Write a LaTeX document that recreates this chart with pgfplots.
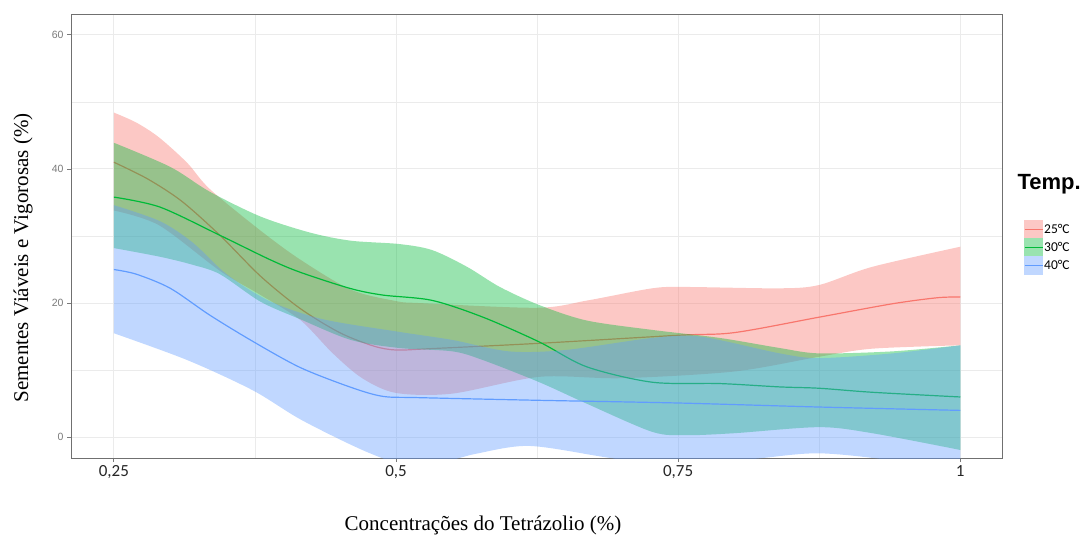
\documentclass[border=0pt]{standalone}
\usepackage{fontspec}
\setmainfont{Liberation Sans}
\newfontfamily\timesf{Liberation Serif}
\newfontfamily\calib{Carlito}
\usepackage{pgfplots}
\pgfplotsset{compat=1.18}
\usepgfplotslibrary{fillbetween}

\definecolor{c25}{HTML}{F8766D}
\definecolor{c30}{HTML}{00BA38}
\definecolor{c40}{HTML}{619CFF}
\definecolor{gridc}{HTML}{EBEBEB}
\definecolor{tickc}{HTML}{7A7A7A}
\definecolor{framec}{HTML}{707070}

\begin{document}
\begin{tikzpicture}
\begin{axis}[
    at={(71pt,84pt)}, anchor=south west,
    width=931pt, height=444pt, scale only axis,
    xmin=0.212, xmax=1.037, ymin=-3.1, ymax=63.1,
    xtick={0.25,0.5,0.75,1},
    xticklabels={{0,25},{0,5},{0,75},{1}},
    ytick={0,20,40,60},
    minor xtick={0.375,0.625,0.875},
    minor ytick={10,30,50},
    grid=both,
    major grid style={gridc, line width=1pt},
    minor grid style={gridc, line width=0.6pt},
    axis line style={framec, line width=0.9pt},
    tick align=outside, major tick length=4pt, minor tick length=0pt,
    tick style={tickc, line width=0.8pt},
    xtick pos=bottom, ytick pos=left,
    /pgf/number format/assume math mode=true,
    xticklabel style={font=\calib\fontsize{17}{17}\selectfont, text=black!85},
    yticklabel style={font=\fontsize{10.5}{11}\selectfont, text=tickc},
    legend style={at={(1.0236,0.536)}, anchor=north west, draw=none, fill=none,
        font=\calib\fontsize{13.5}{13.5}\selectfont, row sep=0pt, inner sep=0pt,
        nodes={inner sep=0pt, inner xsep=1pt}},
    legend cell align=left,
    fill between/on layer=main,
]
% 25 C
\addplot[name path=ru, draw=none, smooth, forget plot] coordinates {
 (0.25,48.4) (0.27,46.9) (0.29,44.7) (0.315,40.9) (0.335,37.0) (0.38,30.8) (0.415,26.5)
 (0.46,22.0) (0.5,20.3) (0.521,20.0) (0.625,19.3) (0.67,20.4) (0.727,22.2)
 (0.757,22.4) (0.84,22.2) (0.875,22.7) (0.922,25.4) (1.0,28.4)};
\addplot[name path=rl, draw=none, smooth, forget plot] coordinates {
 (0.25,33.8) (0.29,31.6) (0.344,24.8) (0.38,21.2) (0.415,17.5) (0.444,12.5)
 (0.47,8.8) (0.5,6.6) (0.55,6.5) (0.627,9.0) (0.7,8.8) (0.80,9.8)
 (0.875,12.0) (0.922,13.2) (1.0,13.7)};
\addplot[fill=c25, fill opacity=0.4, draw=none, forget plot] fill between[of=ru and rl];
\addplot[c25, line width=1.2pt, smooth, forget plot] coordinates {
 (0.25,41.0) (0.28,38.5) (0.31,35.2) (0.344,30.1) (0.38,24.0) (0.415,19.2)
 (0.45,15.6) (0.48,13.6) (0.5,13.0) (0.53,13.2) (0.627,14.0) (0.75,15.2)
 (0.80,15.6) (0.875,17.9) (0.94,19.9) (0.98,20.8) (1.0,20.9)};
% 30 C
\addplot[name path=gu, draw=none, smooth, forget plot] coordinates {
 (0.25,43.9) (0.30,40.3) (0.335,36.6) (0.38,32.9) (0.424,30.5) (0.46,29.3)
 (0.503,28.8) (0.532,27.9) (0.563,25.4) (0.592,22.4) (0.627,19.7) (0.669,17.4)
 (0.727,16.0) (0.787,14.8) (0.84,13.3) (0.875,12.5) (0.94,12.8) (1.0,13.7)};
\addplot[name path=gl, draw=none, smooth, forget plot] coordinates {
 (0.25,28.2) (0.291,26.9) (0.32,25.7) (0.344,24.3) (0.38,20.2) (0.415,17.6)
 (0.46,14.5) (0.503,13.3) (0.55,12.8) (0.577,11.5) (0.627,8.2) (0.669,5.0)
 (0.727,0.8) (0.757,0.3) (0.80,0.6) (0.875,1.5) (0.922,0.6) (1.0,-1.9)};
\addplot[fill=c30, fill opacity=0.4, draw=none, forget plot] fill between[of=gu and gl];
\addplot[c30, line width=1.2pt, smooth, forget plot] coordinates {
 (0.25,35.8) (0.291,34.3) (0.344,30.1) (0.388,26.5) (0.415,24.6) (0.459,22.2)
 (0.488,21.2) (0.532,20.4) (0.577,17.9) (0.627,14.2) (0.669,10.5) (0.727,8.2)
 (0.787,8.0) (0.84,7.5) (0.875,7.3) (0.922,6.7) (1.0,6.0)};
% 40 C
\addplot[name path=bu, draw=none, smooth, forget plot] coordinates {
 (0.25,34.6) (0.291,32.2) (0.32,29.0) (0.35,24.3) (0.388,20.3) (0.435,17.6)
 (0.503,15.7) (0.55,14.5) (0.6,12.8) (0.65,13.0) (0.727,14.8) (0.77,15.0)
 (0.84,12.5) (0.875,11.8) (0.94,12.5) (1.0,13.7)};
\addplot[name path=bl, draw=none, smooth, forget plot] coordinates {
 (0.25,15.5) (0.315,11.5) (0.373,7.0) (0.417,2.5) (0.477,-2.4) (0.52,-4.5)
 (0.57,-2.5) (0.618,-1.3) (0.686,-3.0) (0.75,-4.6) (0.82,-3.2) (0.875,-2.4)
 (0.94,-3.5) (1.0,-5.6)};
\addplot[fill=c40, fill opacity=0.4, draw=none, forget plot] fill between[of=bu and bl];
\addplot[c40, line width=1.2pt, smooth, forget plot] coordinates {
 (0.25,25.0) (0.27,24.3) (0.30,22.2) (0.335,18.2) (0.373,14.3) (0.415,10.4)
 (0.459,7.5) (0.488,6.1) (0.52,5.9) (0.627,5.5) (0.75,5.1) (0.875,4.5) (1.0,4.0)};

\addlegendimage{legend image code/.code={
  \fill[c25!40] (0pt,-8.85pt) rectangle (18pt,8.85pt);
  \draw[c25, line width=1pt] (0pt,0pt) -- (18pt,0pt);}}
\addlegendentry{25°C}
\addlegendimage{legend image code/.code={
  \fill[c30!40] (0pt,-8.85pt) rectangle (18pt,8.85pt);
  \draw[c30, line width=1pt] (0pt,0pt) -- (18pt,0pt);}}
\addlegendentry{30°C}
\addlegendimage{legend image code/.code={
  \fill[c40!40] (0pt,-8.85pt) rectangle (18pt,8.85pt);
  \draw[c40, line width=1pt] (0pt,0pt) -- (18pt,0pt);}}
\addlegendentry{40°C}
\end{axis}
\node[anchor=west, font=\bfseries\fontsize{22}{22}\selectfont] at (1014pt,358pt) {Temp.};
\node[font=\timesf\fontsize{21}{21}\selectfont] at (483pt,17pt) {Concentrações do Tetrázolio (\%)};
\node[rotate=90, font=\timesf\fontsize{21}{21}\selectfont] at (23pt,284pt) {Sementes Viáveis e Vigorosas (\%)};
\pgfresetboundingbox
\path[use as bounding box] (0pt,0pt) rectangle (1083pt,542pt);
\end{tikzpicture}
\end{document}
